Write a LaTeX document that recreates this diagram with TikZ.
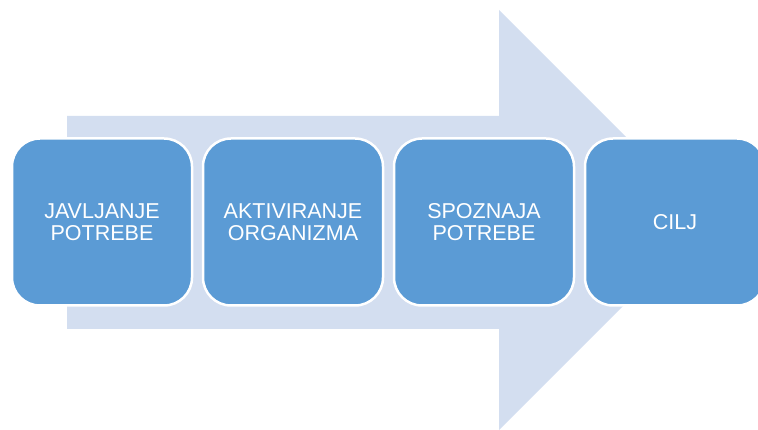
\documentclass[tikz,border=0pt]{standalone}
\usepackage{fontspec}
\setmainfont{Liberation Sans}
\usetikzlibrary{positioning}

\definecolor{arrowblue}{RGB}{211,222,240}
\definecolor{boxblue}{RGB}{91,155,213}

\tikzset{
	stage/.style={draw=white, line width=2.5pt, fill=boxblue, rounded corners=28pt,
		minimum width=180pt, minimum height=167pt, text width=165pt, align=center,
		text=white, font=\fontsize{21.5}{22}\selectfont, inner sep=0pt, outer sep=0pt}
}

\begin{document}
\begin{tikzpicture}[x=1pt,y=-1pt]
			\useasboundingbox (0,0) rectangle (758,430);
			
			% Big arrow
			\fill[arrowblue] (67,116) -- (499,116) -- (499,10) -- (709,220)
				-- (499,430) -- (499,329) -- (67,329) -- cycle;
			
			% Stages
			\node[stage] (javljanje) at (102,222) {JAVLJANJE\\POTREBE};
			\node[stage, right=11pt of javljanje] (aktiviranje) {AKTIVIRANJE\\ORGANIZMA};
			\node[stage, right=11pt of aktiviranje] (spoznaja) {SPOZNAJA\\POTREBE};
			\node[stage, right=11pt of spoznaja] (cilj) {CILJ};
		\end{tikzpicture}
\end{document}
